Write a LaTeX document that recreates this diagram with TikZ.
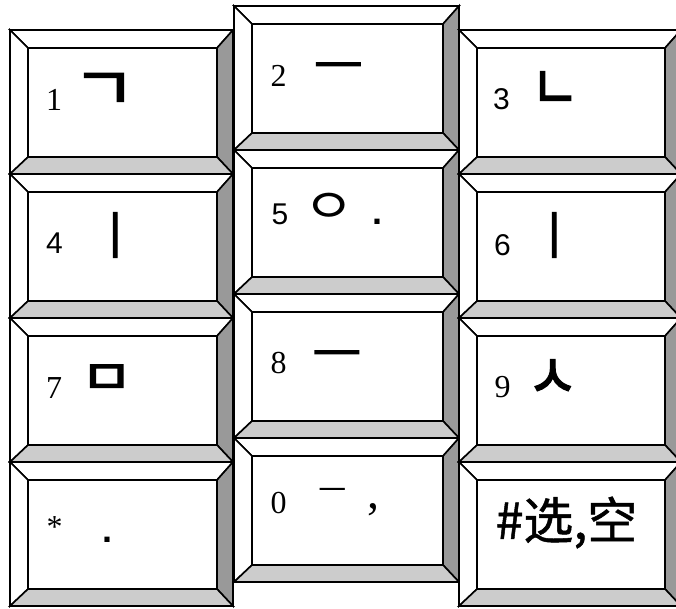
\documentclass[tikz,border=0pt]{standalone}
\usepackage{fontspec}
\usepackage{graphicx}
\setmainfont{Liberation Serif}
\newfontfamily\sansdig{Liberation Sans}
\newfontfamily\krb{Noto Sans CJK KR}[FakeBold=2.5]
\newfontfamily\krr{Noto Sans CJK KR}
\newfontfamily\scf{Noto Sans CJK SC}[FakeBold=1]
\tikzset{
  keyline/.style={draw=black,line width=1.6pt,line join=miter},
  lightbev/.style={keyline,fill=white},
  darkbev/.style={keyline,fill=black!40},
  midbev/.style={keyline,fill=black!20},
  face/.style={keyline,fill=white},
  serifdig/.style={inner sep=0pt,font=\fontsize{32}{32}\selectfont},
  sansd/.style={inner sep=0pt,font=\sansdig\fontsize{30}{30}\selectfont},
  jamo/.style={inner sep=0pt,font=\krb\fontsize{44}{44}\selectfont},
  jamolight/.style={inner sep=0pt,font=\krr\fontsize{44}{44}\selectfont},
  thinjamo/.style={inner sep=0pt,font=\krr\fontsize{31}{31}\selectfont},
  dotmark/.style={inner sep=0pt,font=\sansdig\bfseries\fontsize{36}{36}\selectfont},
  hanzi/.style={inner sep=0pt,font=\scf\fontsize{50}{50}\selectfont},
}
% #1 name, #2 x1, #3 y1, #4 x2, #5 y2
\newcommand\kbkey[5]{%
  \path[lightbev] (#2,#3) -- (#4,#3) -- (#4-16,#3+18) -- (#2+18,#3+18) -- cycle;
  \path[lightbev] (#2,#3) -- (#2+18,#3+18) -- (#2+18,#5-17) -- (#2,#5) -- cycle;
  \path[darkbev] (#4,#3) -- (#4,#5) -- (#4-16,#5-17) -- (#4-16,#3+18) -- cycle;
  \path[midbev] (#2,#5) -- (#4,#5) -- (#4-16,#5-17) -- (#2+18,#5-17) -- cycle;
  \path[face] (#2+18,#3+18) rectangle (#4-16,#5-17);
  \coordinate (#1) at ({(#2+#4)/2},{(#3+#5)/2});
}
\begin{document}
\begin{tikzpicture}[x=1pt,y=-1pt]
\clip (0,0) rectangle (676,608);
\fill[white] (0,0) rectangle (676,608);
% left column
\kbkey{k1}{10}{30}{233}{174}
\kbkey{k4}{10}{174}{233}{318}
\kbkey{k7}{10}{318}{233}{462}
\kbkey{kst}{10}{462}{233}{606}
% middle column
\kbkey{k2}{234}{6}{459}{150}
\kbkey{k5}{234}{150}{459}{294}
\kbkey{k8}{234}{294}{459}{438}
\kbkey{k0}{234}{438}{459}{582}
% right column
\kbkey{k3}{459}{30}{681}{174}
\kbkey{k6}{459}{174}{681}{318}
\kbkey{k9}{459}{318}{681}{462}
\kbkey{khs}{459}{462}{681}{606}
% labels
\node[serifdig] (t1) at (54,99.5) {1};
\node[jamo] (j1) at (104,91.5) {\scalebox{1.55}[1.35]{ㄱ}};
\node[serifdig] (t2) at (278.5,76) {2};
\node[jamo] (j2) at (338.5,72) {\scalebox{1.22}[1]{ㅡ}};
\node[sansd] (t3) at (501.5,99.5) {3};
\node[jamo] (j3) at (555,90.5) {\scalebox{1.2}[1.4]{ㄴ}};
\node[sansd] (t4) at (54.5,243.5) {4};
\node[jamo] (j4) at (115,235) {\scalebox{1}[1.15]{ㅣ}};
\node[sansd] (t5) at (280,214) {5};
\node[jamolight] (j5) at (329,208.5) {\scalebox{1.27}[1.1]{ㅇ}};
\node[dotmark] (d5) at (377,222) {.};
\node[sansd] (t6) at (502.5,245) {6};
\node[jamo] (j6) at (554,235) {\scalebox{1}[1.15]{ㅣ}};
\node[serifdig] (t7) at (54,388) {7};
\node[jamo] (j7) at (106.5,379.5) {\scalebox{1.3}[1.1]{ㅁ}};
\node[serifdig] (t8) at (278.5,363.5) {8};
\node[jamo] (j8) at (337,360) {\scalebox{1.22}[1]{ㅡ}};
\node[serifdig] (t9) at (502.5,387.5) {9};
\node[jamo] (j9) at (552.5,379) {\scalebox{1.25}[1.4]{ㅅ}};
\node[serifdig] (tst) at (54.5,527) {*};
\node[dotmark] (dst) at (107,540) {.};
\node[serifdig] (t0) at (278.5,503) {0};
\node[thinjamo] (j0) at (332.5,495) {ㅡ};
\node[serifdig,font=\fontsize{48}{48}\selectfont] (c0) at (373,510) {,};
\node[hanzi] (ths) at (566.5,522.5) {\#选,空};
\end{tikzpicture}
\end{document}
